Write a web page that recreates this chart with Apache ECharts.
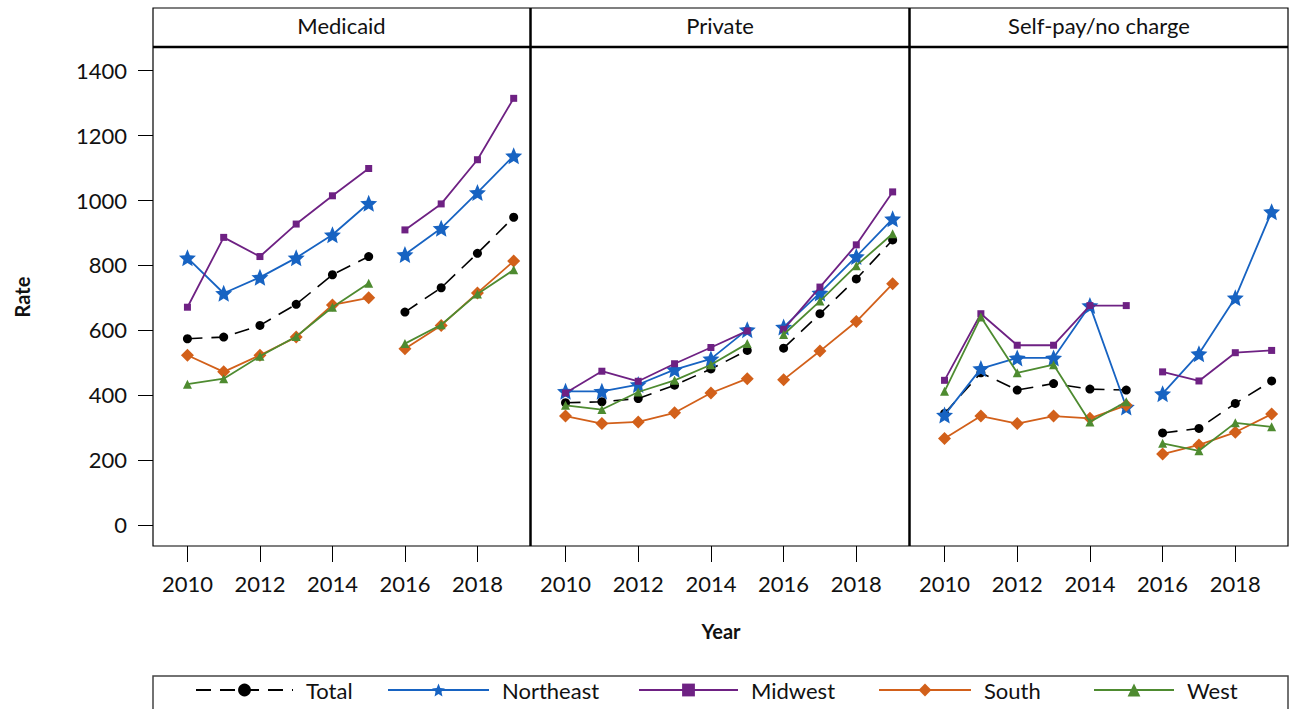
<!DOCTYPE html>
<html>
<head>
<meta charset="utf-8">
<script src="https://cdn.jsdelivr.net/npm/echarts@6/dist/echarts.min.js"></script>
<style>
html,body{margin:0;padding:0;background:#fff;}
#chart{width:1289px;height:709px;}
</style>
</head>
<body>
<div id="chart"></div>
<script>
// ---- data ----
const yearsA = [2010, 2011, 2012, 2013, 2014, 2015];
const yearsB = [2016, 2017, 2018, 2019];
const panels = ["Medicaid", "Private", "Self-pay/no charge"];
const regions = ["Total", "Northeast", "Midwest", "South", "West"];
const yTicks = [0, 200, 400, 600, 800, 1000, 1200, 1400];
const xTicks = [2010, 2012, 2014, 2016, 2018];

const medicaid_total     = [573, 578, 614, 679, 770, 826, 655, 730, 836, 947];
const medicaid_northeast = [822, 713, 762, 822, 893, 990, 832, 913, 1023, 1136];
const medicaid_midwest   = [670, 885, 826, 926, 1013, 1097, 908, 988, 1124, 1313];
const medicaid_south     = [522, 471, 522, 578, 677, 699, 542, 614, 714, 812];
const medicaid_west      = [433, 450, 519, 580, 670, 744, 558, 616, 711, 785];

const private_total     = [376, 379, 389, 430, 480, 537, 544, 650, 757, 877];
const private_northeast = [411, 411, 432, 478, 511, 601, 609, 714, 826, 942];
const private_midwest   = [406, 473, 442, 496, 546, 597, 602, 732, 862, 1025];
const private_south     = [335, 312, 317, 345, 406, 450, 447, 535, 626, 742];
const private_west      = [368, 355, 409, 445, 493, 558, 586, 689, 798, 896];

const selfpay_total     = [343, 468, 415, 435, 418, 415, 283, 297, 374, 443];
const selfpay_northeast = [338, 481, 514, 514, 675, 363, 404, 527, 699, 964];
const selfpay_midwest   = [445, 650, 553, 553, 675, 675, 471, 443, 530, 537];
const selfpay_south     = [266, 335, 312, 335, 328, 368, 218, 246, 285, 341];
const selfpay_west      = [411, 640, 468, 493, 317, 379, 251, 228, 314, 302];

const panelData = [
  [medicaid_total, medicaid_northeast, medicaid_midwest, medicaid_south, medicaid_west],
  [private_total, private_northeast, private_midwest, private_south, private_west],
  [selfpay_total, selfpay_northeast, selfpay_midwest, selfpay_south, selfpay_west]
];

// ---- styles ----
function starPath() {
  const pts = [];
  for (let i = 0; i < 10; i++) {
    const r = i % 2 === 0 ? 50 : 23;
    const a = -Math.PI / 2 + i * Math.PI / 5;
    pts.push((50 + r * Math.cos(a)).toFixed(2) + ' ' + (50 + r * Math.sin(a)).toFixed(2));
  }
  return 'path://M' + pts.join(' L') + ' Z';
}
const FONT = 'Lato, "Open Sans", sans-serif';
const regionStyle = [
  {color: '#000000', symbol: 'circle', size: 9, dash: [15, 9], width: 1.6},
  {color: '#1763C2', symbol: starPath(), size: 17, dash: 'solid', width: 1.8},
  {color: '#6E2183', symbol: 'rect', size: 7, dash: 'solid', width: 1.8},
  {color: '#D2601A', symbol: 'diamond', size: 13, dash: 'solid', width: 1.8},
  {color: '#4E8B30', symbol: 'triangle', size: 9, dash: 'solid', width: 1.8}
];

const gridLeft = [153, 531, 910];
const gridWidth = [377, 378, 378];
const gridTop = 47, gridBottomY = 546;

const grids = [], xAxes = [], yAxes = [], series = [];
panels.forEach((p, pi) => {
  grids.push({left: gridLeft[pi], top: gridTop, width: gridWidth[pi], height: gridBottomY - gridTop, containLabel: false});
  xAxes.push({
    type: 'value', gridIndex: pi, min: 2009.05, max: 2019.45, position: 'bottom',
    splitLine: {show: false},
    axisLine: {show: false, onZero: false},
    axisTick: {show: true, inside: false, length: 16, customValues: xTicks, lineStyle: {color: '#000', width: 1}},
    axisLabel: {show: true, customValues: xTicks, margin: 26, fontSize: 22, color: '#111', fontFamily: FONT, formatter: v => String(v)}
  });
  yAxes.push({
    type: 'value', gridIndex: pi, min: -65, max: 1471, position: 'left',
    splitLine: {show: false},
    axisLine: {show: false, onZero: false},
    axisTick: {show: pi === 0, inside: false, length: 15, customValues: yTicks, lineStyle: {color: '#000', width: 1}},
    axisLabel: {show: pi === 0, customValues: yTicks, margin: 26, fontSize: 22, color: '#111', fontFamily: FONT, formatter: v => String(v)}
  });
  regions.forEach((r, ri) => {
    const vals = panelData[pi][ri];
    const st = regionStyle[ri];
    [yearsA, yearsB].forEach((yrs, si) => {
      const off = si === 0 ? 0 : yearsA.length;
      series.push({
        type: 'line', name: r, xAxisIndex: pi, yAxisIndex: pi,
        data: yrs.map((y, i) => [y, vals[off + i]]),
        symbol: st.symbol, symbolSize: st.size, showSymbol: true,
        color: st.color,
        itemStyle: {color: st.color},
        lineStyle: {color: st.color, width: st.width, type: st.dash},
        animation: false, z: 2 + ri
      });
    });
  });
});

const legendPos = [
  {name: 'Total', left: 195, w: 97},
  {name: 'Northeast', left: 387, w: 101},
  {name: 'Midwest', left: 638, w: 99},
  {name: 'South', left: 878, w: 92},
  {name: 'West', left: 1093, w: 80}
];
const legends = legendPos.map(l => ({
  data: [l.name], left: l.left, top: 679, padding: 0,
  itemWidth: l.w, itemHeight: 16, selectedMode: false,
  textStyle: {fontSize: 22, color: '#111', fontFamily: FONT, padding: [0, 0, 0, 8]}
}));

const graphics = [
  {type: 'rect', shape: {x: 153, y: 8, width: 1135, height: 538}, style: {fill: 'none', stroke: '#000', lineWidth: 1.2}, z: 100},
  {type: 'line', shape: {x1: 153, y1: 47, x2: 1288, y2: 47}, style: {stroke: '#000', lineWidth: 2.5}, z: 100},
  {type: 'line', shape: {x1: 530.5, y1: 8, x2: 530.5, y2: 546}, style: {stroke: '#000', lineWidth: 2.5}, z: 100},
  {type: 'line', shape: {x1: 909.5, y1: 8, x2: 909.5, y2: 546}, style: {stroke: '#000', lineWidth: 2.5}, z: 100},
  {type: 'rect', shape: {x: 153, y: 676, width: 1135, height: 60}, style: {fill: 'none', stroke: '#444', lineWidth: 1.5}, z: 100},
  {type: 'text', x: 22, y: 297, rotation: Math.PI / 2, style: {text: 'Rate', font: 'bold 20px ' + FONT, fill: '#111', textAlign: 'center', textVerticalAlign: 'middle'}},
  {type: 'text', x: 721, y: 631, style: {text: 'Year', font: 'bold 20px ' + FONT, fill: '#111', textAlign: 'center', textVerticalAlign: 'middle'}}
];
panels.forEach((p, pi) => {
  graphics.push({type: 'text', x: gridLeft[pi] + gridWidth[pi] / 2, y: 25,
    style: {text: p, font: '22px ' + FONT, fill: '#111', textAlign: 'center', textVerticalAlign: 'middle'}});
});

const chart = echarts.init(document.getElementById('chart'), null, {renderer: 'svg'});
chart.setOption({
  animation: false,
  backgroundColor: '#fff',
  grid: grids, xAxis: xAxes, yAxis: yAxes,
  legend: legends,
  series: series,
  graphic: graphics
});
</script>
</body>
</html>
